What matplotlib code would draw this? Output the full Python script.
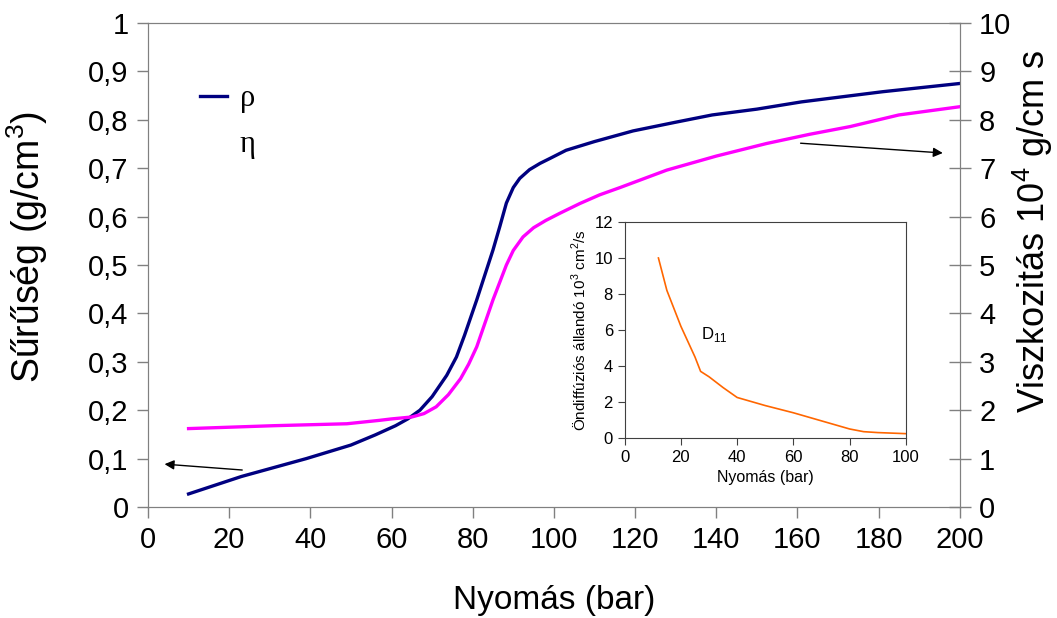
import numpy as np
import matplotlib
matplotlib.use("Agg")
import matplotlib.pyplot as plt

plt.rcParams['font.family'] = ['Liberation Sans', 'DejaVu Sans']
plt.rcParams['mathtext.fontset'] = 'custom'
plt.rcParams['mathtext.rm'] = 'Liberation Sans'

# density (left axis)
p_rho = [10, 23, 39, 50, 56, 61, 64, 67, 70, 73.6, 76, 78, 81, 85, 86.7, 88.3, 90, 91.6, 94, 96.6,
         99, 103, 110, 119.5, 130, 139, 150, 161, 181, 200]
rho = [0.027, 0.063, 0.10, 0.128, 0.149, 0.168, 0.182, 0.200, 0.228, 0.272, 0.31, 0.355, 0.428,
       0.531, 0.58, 0.628, 0.660, 0.679, 0.697, 0.710, 0.72, 0.737, 0.755, 0.777, 0.795, 0.81,
       0.822, 0.837, 0.858, 0.875]

# viscosity (right axis)
p_eta = [10, 31, 49, 57, 60, 65, 68, 71, 74, 77, 79, 81, 85, 88.3, 90, 92.4, 95, 98, 101.5, 106.4,
         111.3, 116.3, 127.8, 140, 152.4, 163, 173, 185, 200]
eta = [1.62, 1.68, 1.72, 1.79, 1.82, 1.86, 1.93, 2.07, 2.32, 2.65, 2.95, 3.31, 4.28, 5.0, 5.3,
       5.58, 5.77, 5.92, 6.07, 6.27, 6.45, 6.6, 6.96, 7.25, 7.51, 7.7, 7.86, 8.1, 8.27]

# self diffusion (inset)
p_d = [12, 15, 20, 25, 27, 30, 35, 40, 50, 60, 70, 80, 85, 90, 100]
d11 = [10, 8.2, 6.2, 4.5, 3.7, 3.4, 2.8, 2.25, 1.8, 1.4, 0.95, 0.5, 0.35, 0.3, 0.24]

x_ticks = list(range(0, 201, 20))
y_left = [i / 10 for i in range(11)]
y_left_labels = ['0'] + [f'0,{i}' for i in range(1, 10)] + ['1']
y_right = list(range(11))

gray = '#808080'
W, H = 1057, 618
fig = plt.figure(figsize=(10.57, 6.18), dpi=100)
ax = fig.add_axes([0.140, 0.1796, 0.768, 0.7832])
ax2 = ax.twinx()

ax.plot(p_rho, rho, color='#000080', lw=2.4, label='ρ')
ax2.plot(p_eta, eta, color='#FF00FF', lw=2.4)
ax.plot([], [], color='white', lw=2.4, label='η')

ax.set_xlim(0, 200)
ax.set_ylim(0, 1)
ax2.set_ylim(0, 10)
ax.set_xticks(x_ticks)
ax.set_yticks(y_left)
ax.set_yticklabels(y_left_labels)
ax2.set_yticks(y_right)
for s in ax.spines.values():
    s.set_color(gray)
for s in ax2.spines.values():
    s.set_color(gray)
ax.tick_params(labelsize=21, color=gray, length=8, width=1, pad=6)
ax2.tick_params(labelsize=21, color=gray, length=16, width=1, direction='inout', pad=6)

ax.set_xlabel('Nyomás (bar)', fontsize=24, labelpad=22)
# y axis titles placed by hand (baseline positions)
fig.text(40 / W, 1 - 247 / H, r'Sűrűség (g/cm$^{3}$)', fontsize=27, rotation=90,
         ha='center', va='baseline', rotation_mode='anchor')
fig.text(1045 / W, 1 - 231 / H, r'Viszkozitás 10$^{4}$ g/cm s', fontsize=26, rotation=90,
         ha='center', va='baseline', rotation_mode='anchor')

leg = ax.legend(loc='upper left', bbox_to_anchor=(0.03, 0.93), frameon=False,
                prop={'family': 'Liberation Serif', 'size': 22},
                handlelength=0.9, handletextpad=0.4, labelspacing=0.55)

ax.annotate('', xy=(3.4, 0.089), xytext=(23.9, 0.076),
            arrowprops=dict(arrowstyle='-|>', color='black', lw=1, mutation_scale=14))
ax.annotate('', xy=(196.5, 0.731), xytext=(160.1, 0.752),
            arrowprops=dict(arrowstyle='-|>', color='black', lw=1, mutation_scale=14))

ins = fig.add_axes([0.591, 0.2913, 0.266, 0.3495])
ins.plot(p_d, d11, color='#FF6600', lw=1.2)
ins.set_xlim(0, 100)
ins.set_ylim(0, 12)
ins.set_xticks(range(0, 101, 20))
ins.set_yticks(range(0, 13, 2))
for s in ins.spines.values():
    s.set_color('#404040')
ins.tick_params(labelsize=12, length=5, color='#404040')
ins.set_xlabel('Nyomás (bar)', fontsize=11.5)
ins.set_ylabel(r'Öndiffúziós állandó 10$^{3}$ cm$^{2}$/s', fontsize=11)
ins.text(27.3, 5.5, r'D$_{11}$', fontsize=12)

fig.savefig('out.png', dpi=100)
